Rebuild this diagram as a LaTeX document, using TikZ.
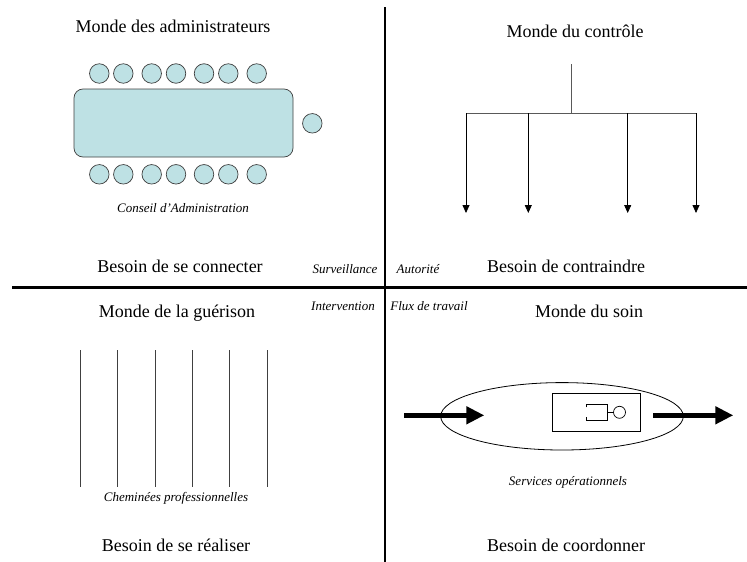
\documentclass[tikz,border=0pt]{standalone}
\usepackage{fontspec}
\setmainfont{Liberation Serif}
\usetikzlibrary{arrows.meta,shapes.geometric}
\definecolor{seat}{RGB}{190,225,228}
\begin{document}
\begin{tikzpicture}[x=1pt,y=-1pt,
  title/.style={font=\fontsize{18}{20}\selectfont, anchor=base, inner sep=0pt},
  lab/.style={font=\fontsize{13}{15}\selectfont\itshape, anchor=base, inner sep=0pt},
  divider/.style={line width=2.3pt, black},
  seatc/.style={circle, draw=black!75, fill=seat, line width=0.7pt, minimum size=19.5pt, inner sep=0pt},
  branch/.style={line width=0.8pt, black!65},
  ctrlarrow/.style={line width=0.8pt, black, -{Triangle[width=7pt,length=8pt]}},
  chimney/.style={line width=0.9pt, black!75},
  bigarrow/.style={line width=5pt, -{Triangle[width=17pt,length=18pt]}},
  thin/.style={line width=0.8pt, black}]
\useasboundingbox (0,0) rectangle (747,562);
\fill[white] (0,0) rectangle (747,562);

% dividers
\coordinate (vtop) at (385.3,7);
\coordinate (vbot) at (385.3,562);
\coordinate (hl) at (12,287.5);
\coordinate (hr) at (747,287.5);
\draw[divider] (vtop) -- (vbot);
\draw[divider] (hl) -- (hr);

% titles
\node[title] (t1) at (173,32) {Monde des administrateurs};
\node[title] (t2) at (575,37) {Monde du contrôle};
\node[title] (t3) at (177,317) {Monde de la guérison};
\node[title] (t4) at (589,317) {Monde du soin};
\node[title] (b1) at (180,272) {Besoin de se connecter};
\node[title] (b2) at (566,272) {Besoin de contraindre};
\node[title] (b3) at (176,551) {Besoin de se réaliser};
\node[title] (b4) at (566,551) {Besoin de coordonner};

% small italic labels
\node[lab] (s1) at (345,273) {Surveillance};
\node[lab] (s2) at (418,273) {Autorité};
\node[lab] (s3) at (343,310) {Intervention};
\node[lab] (s4) at (429,310) {Flux de travail};
\node[lab] (ca) at (183,212) {Conseil d’Administration};
\node[lab] (cp) at (176,501) {Cheminées professionnelles};
\node[lab] (so) at (568,485) {Services opérationnels};

% administrators: table and seats
\node[draw=black!75, fill=seat, line width=0.7pt, rounded corners=9pt, minimum width=219pt, minimum height=68pt, inner sep=0pt] (table) at (183.5,123) {};
\foreach \i/\x in {1/99.3,2/123.3,3/151.7,4/176,5/204,6/228.3,7/256.7}{
  \node[seatc] (top\i) at (\x,73.5) {};
  \node[seatc] (bot\i) at (\x,174.3) {};
}
\node[seatc] (head) at (312.3,123.3) {};

% control tree
\coordinate (stem) at (571.7,64.3);
\coordinate (jn) at (571.7,113.3);
\coordinate (h1) at (466,113.3);
\coordinate (h2) at (528.3,113.3);
\coordinate (h3) at (627.7,113.3);
\coordinate (h4) at (696,113.3);
\coordinate (a1) at (466,213);
\coordinate (a2) at (528.3,213);
\coordinate (a3) at (627.7,213);
\coordinate (a4) at (696,213);
\draw[branch] (stem) -- (jn);
\draw[branch] (h1) -- (h4);
\foreach \i in {1,2,3,4}{ \draw[ctrlarrow] (h\i) -- (a\i); }

% chimneys
\foreach \i/\x in {1/80.7,2/117.7,3/155,4/192.3,5/229.7,6/267}{
  \coordinate (ct\i) at (\x,350);
  \coordinate (cb\i) at (\x,486.7);
  \draw[chimney] (ct\i) -- (cb\i);
}

% care world
\node[draw, thin, ellipse, minimum width=242.6pt, minimum height=67.4pt, inner sep=0pt] (ell) at (562,416.3) {};
\node[draw, thin, minimum width=88.4pt, minimum height=37.7pt, inner sep=0pt] (box) at (596.5,412.2) {};
\coordinate (in1) at (404,415.3);
\coordinate (in2) at (484.3,415.3);
\coordinate (out1) at (653.3,415.3);
\coordinate (out2) at (733.3,415.3);
\draw[bigarrow] (in1) -- (in2);
\draw[bigarrow] (out1) -- (out2);

% little symbol in the box
\node[circle, draw, line width=0.7pt, minimum size=12pt, inner sep=0pt] (sym) at (619.5,412.3) {};
\coordinate (bk1) at (586.7,407.3);
\coordinate (bk2) at (586.7,404.3);
\coordinate (bk3) at (607.3,404.3);
\coordinate (bk4) at (607.3,420);
\coordinate (bk5) at (586.7,420);
\coordinate (bk6) at (586.7,416.5);
\coordinate (bkm) at (607.3,412.3);
\draw[line width=0.6pt] (bk1) -- (bk2) -- (bk3) -- (bk4) -- (bk5) -- (bk6);
\draw[line width=0.6pt] (bkm) -- (sym.west);
\end{tikzpicture}
\end{document}
